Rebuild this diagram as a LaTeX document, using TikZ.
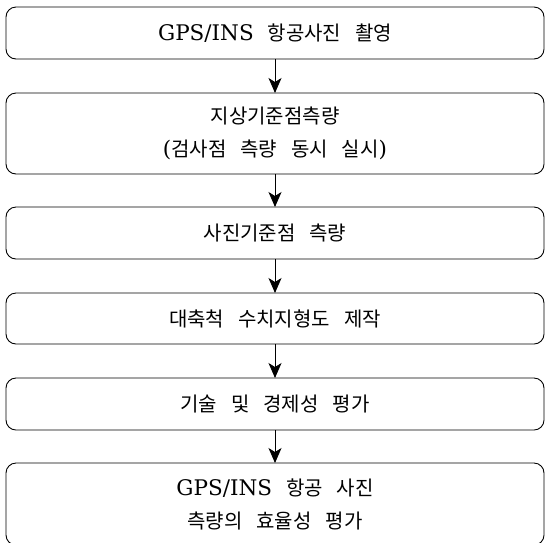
\documentclass[tikz,border=0pt]{standalone}
\usepackage{fontspec}
\setmainfont{DejaVu Serif}
\newfontfamily\kr[WordSpace=3.1]{Noto Sans CJK KR}
\newfontfamily\lat[Scale=1.075]{DejaVu Serif}
\usetikzlibrary{arrows.meta}
\begin{document}
\begin{tikzpicture}[x=1pt,y=-1pt,
  flowbox/.style={draw, line width=0.9pt, rounded corners=10pt, minimum width=538pt,
    align=center, inner sep=0pt, outer sep=0pt, font=\kr\fontsize{20}{33}\selectfont},
  flowarrow/.style={line width=0.9pt, -{Stealth[length=15pt,width=13pt,inset=4pt]}}]
\useasboundingbox (0,0) rectangle (545,542);
\clip (0,0) rectangle (545,542);
\node[flowbox, minimum height=52pt] (b1) at (275,33) {{\lat GPS/INS} 항공사진 촬영};
\node[flowbox, minimum height=81pt] (b2) at (275,133.5) {지상기준점측량\\{\lat(}검사점 측량 동시 실시{\lat)}};
\node[flowbox, minimum height=52pt] (b3) at (275,233) {사진기준점 측량};
\node[flowbox, minimum height=51pt] (b4) at (275,318.5) {대축척 수치지형도 제작};
\node[flowbox, minimum height=52pt] (b5) at (275,404) {기술 및 경제성 평가};
\node[flowbox, minimum height=82pt] (b6) at (275,504) {{\lat GPS/INS} 항공 사진\\측량의 효율성 평가};
\draw[flowarrow] (b1) -- (b2);
\draw[flowarrow] (b2) -- (b3);
\draw[flowarrow] (b3) -- (b4);
\draw[flowarrow] (b4) -- (b5);
\draw[flowarrow] (b5) -- (b6);
\end{tikzpicture}
\end{document}
